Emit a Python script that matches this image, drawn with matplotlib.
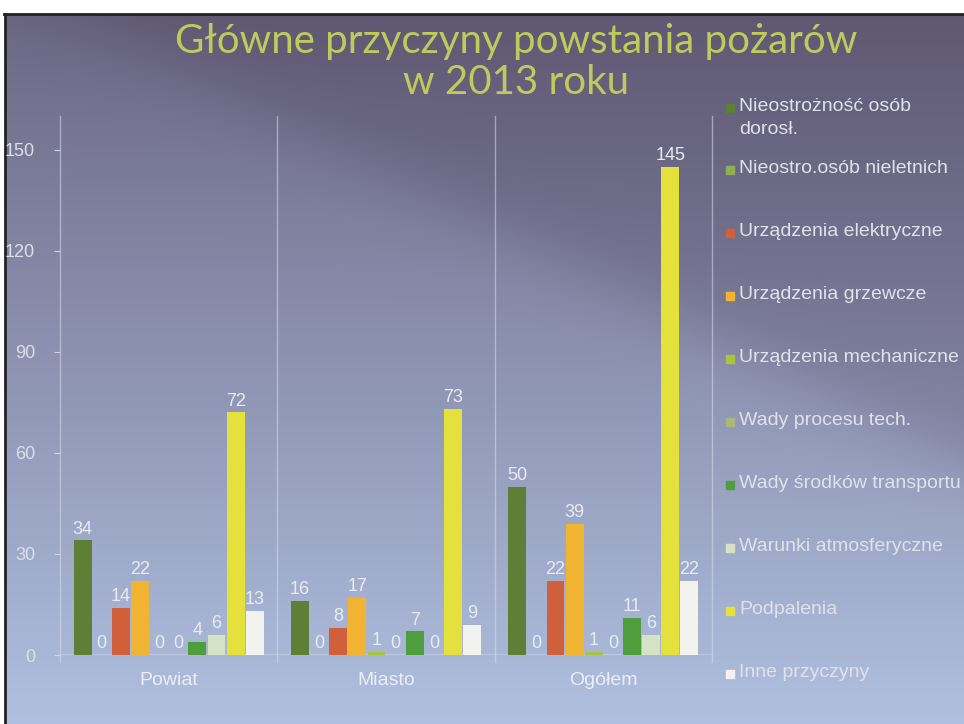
import numpy as np
import matplotlib
matplotlib.use('Agg')
import matplotlib.pyplot as plt
from matplotlib.patches import Rectangle

categories = ['Powiat', 'Miasto', 'Ogółem']
causes = ['Nieostrożność osób\ndorosł.', 'Nieostro.osób nieletnich', 'Urządzenia elektryczne',
          'Urządzenia grzewcze', 'Urządzenia mechaniczne', 'Wady procesu tech.',
          'Wady środków transportu', 'Warunki atmosferyczne', 'Podpalenia', 'Inne przyczyny']
powiat = [34, 0, 14, 22, 0, 0, 4, 6, 72, 13]
miasto = [16, 0, 8, 17, 1, 0, 7, 0, 73, 9]
ogolem = [50, 0, 22, 39, 1, 0, 11, 6, 145, 22]
yticks = [0, 30, 60, 90, 120, 150]

colors = ['#5f7e36', '#8fae52', '#d0603c', '#f0b432', '#a6c640',
          '#a9b87a', '#4f9e3e', '#d6e2c6', '#e4e03c', '#f2f2ee']

plt.rcParams['font.family'] = ['Liberation Sans', 'DejaVu Sans']

W, H = 964, 724
fig = plt.figure(figsize=(W / 100, H / 100), dpi=100)

# background - photographed slide with a gradient
bg = fig.add_axes([0, 0, 1, 1], zorder=0)
yy, xx = np.mgrid[0:H, 0:W]
s = yy / H
top = np.array([106, 102, 130]) / 255
bot = np.array([176, 192, 224]) / 255
img = top[None, None, :] * (1 - s[..., None]) + bot[None, None, :] * s[..., None]
dark = 1 / (1 + np.exp(-((0.5 * xx - 20) - yy) / 20))
tint = np.array([0.88, 0.85, 0.87])
img = img * (1 - dark[..., None]) + img * tint[None, None, :] * dark[..., None]
bg.imshow(np.clip(img, 0, 1), aspect='auto', extent=[0, W, H, 0])
bg.set_xlim(0, W)
bg.set_ylim(H, 0)
bg.axis('off')
bg.add_patch(Rectangle((0, 0), W, 13, color='white'))
bg.add_patch(Rectangle((0, 0), 4, H, color='white'))
bg.plot([4, W], [14, 14], color='#222222', lw=2)
bg.plot([5, 5], [14, H], color='#222222', lw=2)

ax = fig.add_axes([60 / W, 1 - 655 / H, 652 / W, (655 - 116) / H], zorder=1)
ax.set_facecolor('none')

x = np.arange(len(categories))
slot = 0.088
data = np.array([powiat, miasto, ogolem]).T
for i, (cause, vals) in enumerate(zip(causes, data)):
    bars = ax.bar(x + (i - 4.5) * slot, vals, width=0.082, color=colors[i], label=cause, zorder=3)
    ax.bar_label(bars, padding=2, color='#e8ebf3', fontsize=13)

ax.set_xlim(-0.5, 2.5)
ax.set_ylim(0, 160)
for xv in [-0.5, 0.5, 1.5, 2.5]:
    ax.plot([xv, xv], [-2, 160], color='#d8dcee', lw=1, alpha=0.55, clip_on=False, zorder=1)
ax.axhline(0, color='#d8dcee', lw=1.2, alpha=0.5, zorder=2)

for sp in ax.spines.values():
    sp.set_visible(False)
ax.set_yticks(yticks)
ax.tick_params(axis='y', length=4, color='#d0d4e6', labelcolor='#dcdfe8', labelsize=13, pad=14)
ax.set_xticks(x)
ax.set_xticklabels(categories)
ax.tick_params(axis='x', length=0, labelcolor='#eceef4', labelsize=14, pad=12)

title_kw = dict(ha='center', va='center', fontsize=29, color='#bfca5c',
                family=['Lato', 'DejaVu Sans'])
fig.text(516 / W, 1 - 42 / H, 'Główne przyczyny powstania pożarów', **title_kw)
fig.text(516 / W, 1 - 83 / H, 'w 2013 roku', **title_kw)

# legend drawn by hand: first entry wraps onto two lines
leg_y = [108] + [170 + 63 * k for k in range(len(causes) - 1)]
for i, cause in enumerate(causes):
    yc = leg_y[i]
    bg.add_patch(Rectangle((726, yc - 4), 8, 8, color=colors[i]))
    bg.text(739, yc - 10, cause, ha='left', va='top', fontsize=14, color='#dfe2ec', linespacing=1.45)

fig.savefig('out.png', dpi=100)
